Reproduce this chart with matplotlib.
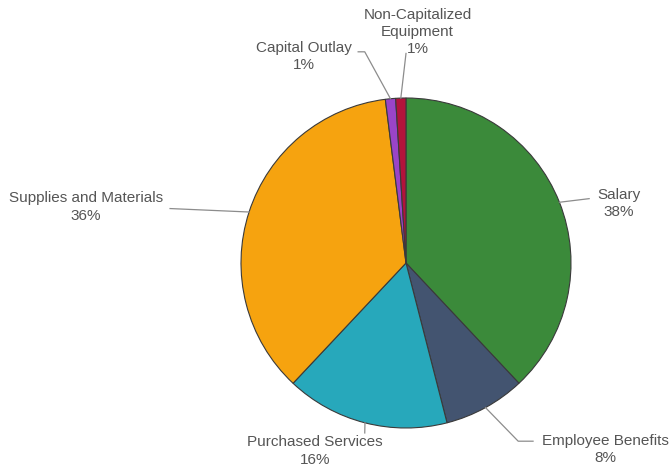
"""Pie chart of expenditures by object category."""
import numpy as np
import matplotlib.pyplot as plt

plt.rcParams['font.family'] = ['Liberation Sans', 'DejaVu Sans']

categorias = ["Salary", "Employee Benefits", "Purchased Services",
              "Supplies and Materials", "Capital Outlay",
              "Non-Capitalized\nEquipment"]
porcentajes = [38, 8, 16, 36, 1, 1]
colores = ["#3b8a3a", "#435470", "#27a8bb", "#f6a30f", "#9a44c8", "#b3133b"]

# label centre and leader-line path (elbow, end) per slice, in axes data units
pos_texto = [(1.29, 0.36), (1.21, -1.13), (-0.55, -1.14),
             (-1.94, 0.34), (-0.62, 1.25), (0.07, 1.40)]
codos = [[(1.11, 0.39)], [(0.68, -1.08)], [(-0.25, -1.03)],
         [(-1.43, 0.33)], [(-0.25, 1.28)], [(0.0, 1.27)]]
finales = [(1.11, 0.39), (0.77, -1.08), (-0.25, -1.03),
           (-1.43, 0.33), (-0.29, 1.28), (0.0, 1.27)]

fig = plt.figure(figsize=(6.72, 4.68), dpi=100)
ax = fig.add_axes([241 / 672, 40 / 468, 330 / 672, 330 / 468])

wedges, _ = ax.pie(porcentajes, colors=colores, startangle=90,
                   counterclock=False, radius=1,
                   wedgeprops=dict(edgecolor="#3a3a3a", linewidth=0.8))
ax.set_xlim(-1, 1)
ax.set_ylim(-1, 1)
ax.set_aspect("equal")

for w, nombre, pct, txt, codo, fin in zip(wedges, categorias, porcentajes,
                                          pos_texto, codos, finales):
    ang = np.deg2rad((w.theta1 + w.theta2) / 2)
    x0, y0 = np.cos(ang), np.sin(ang)
    xs = [x0] + [c[0] for c in codo] + [fin[0]]
    ys = [y0] + [c[1] for c in codo] + [fin[1]]
    ax.plot(xs, ys, color="#8c8c8c", lw=0.9, clip_on=False)
    ax.text(txt[0], txt[1], f"{nombre}\n{pct}%", ha="center", va="center",
            multialignment="center", fontsize=11, color="#555555",
            linespacing=1.3, clip_on=False)

fig.savefig("out.png", dpi=100)
